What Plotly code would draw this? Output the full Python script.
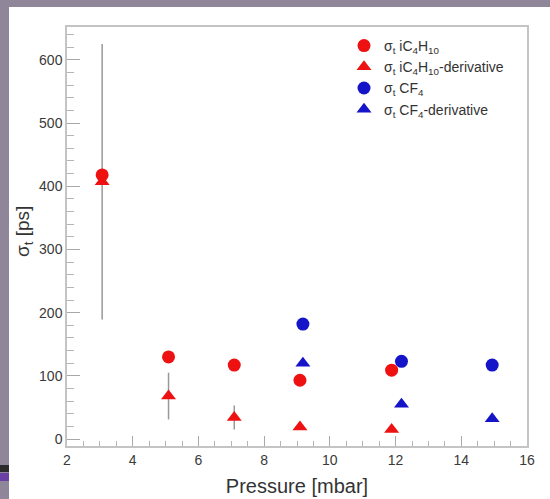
import plotly.graph_objects as go

# Data
p_ic4h10 = [3.07, 5.09, 7.09, 9.09, 11.88]
sig_ic4h10 = [418, 130, 117, 93, 109]
sig_ic4h10_der = [407, 68, 34, 19, 15]
err_ic4h10_der = [218, 37, 19, 0, 0]

p_cf4 = [9.18, 12.18, 14.94]
sig_cf4 = [182, 123, 117]
sig_cf4_der = [120, 55, 32]

RED = "#ee1111"
BLUE = "#1414c8"

fig = go.Figure()
fig.add_trace(go.Scatter(
    x=p_ic4h10, y=sig_ic4h10_der, mode="markers",
    marker=dict(symbol="triangle-up", size=13, color=RED),
    error_y=dict(type="data", array=err_ic4h10_der, color="#999999", thickness=1.5, width=0),
    name="σ<sub>t</sub> iC<sub>4</sub>H<sub>10</sub>-derivative", showlegend=False))
fig.add_trace(go.Scatter(
    x=p_ic4h10, y=sig_ic4h10, mode="markers",
    marker=dict(symbol="circle", size=13, color=RED),
    name="σ<sub>t</sub> iC<sub>4</sub>H<sub>10</sub>"))
# legend entry for the derivative (without error bar glyph)
fig.add_trace(go.Scatter(
    x=[None], y=[None], mode="markers",
    marker=dict(symbol="triangle-up", size=13, color=RED),
    name="σ<sub>t</sub> iC<sub>4</sub>H<sub>10</sub>-derivative"))
fig.add_trace(go.Scatter(
    x=p_cf4, y=sig_cf4, mode="markers",
    marker=dict(symbol="circle", size=13, color=BLUE),
    name="σ<sub>t</sub> CF<sub>4</sub>"))
fig.add_trace(go.Scatter(
    x=p_cf4, y=sig_cf4_der, mode="markers",
    marker=dict(symbol="triangle-up", size=13, color=BLUE),
    name="σ<sub>t</sub> CF<sub>4</sub>-derivative"))

W, H = 550, 499
L, R, T, B = 67, 23, 27, 53
pw, ph = W - L - R, H - T - B

def px_x(x):
    return (x - L) / pw

def px_y(y):
    return (H - B - y) / ph

shapes = [
    dict(type="rect", xref="paper", yref="paper", layer="below",
         x0=px_x(9), x1=px_x(W + 5), y0=px_y(H + 5), y1=px_y(7),
         fillcolor="white", line=dict(width=0)),
    dict(type="rect", xref="paper", yref="paper", layer="below",
         x0=px_x(-5), x1=px_x(9), y0=px_y(472), y1=px_y(465),
         fillcolor="#2b2b2b", line=dict(width=0)),
    dict(type="rect", xref="paper", yref="paper", layer="below",
         x0=px_x(-5), x1=px_x(9), y0=px_y(481), y1=px_y(473),
         fillcolor="#6a3fa6", line=dict(width=0)),
]

axis_common = dict(
    showline=True, mirror=True, linecolor="#c4c4c4", linewidth=1.5,
    ticks="inside", tickcolor="#a8a8a8", showgrid=False, zeroline=False,
    automargin=False,
    tickfont=dict(family="Liberation Sans, Arial", size=14, color="#3a3a3a"),
)

fig.update_layout(
    width=W, height=H,
    margin=dict(l=L, r=R, t=T, b=B),
    paper_bgcolor="#8f8799", plot_bgcolor="white",
    shapes=shapes,
    font=dict(family="Liberation Sans, Arial", color="#333333"),
    xaxis=dict(range=[2, 16], dtick=2, tick0=2, ticklen=10, tickwidth=1,
               minor=dict(dtick=0.5, ticklen=5, tickcolor="#b5b5b5", ticks="inside"),
               title=dict(text="Pressure [mbar]", font=dict(size=20, color="#333333"), standoff=12),
               **axis_common),
    yaxis=dict(range=[-11, 652], dtick=100, tick0=0, ticklen=13, tickwidth=1,
               minor=dict(dtick=20, ticklen=7, tickcolor="#b5b5b5", ticks="inside"),
               **axis_common),
    annotations=[dict(text="σ<sub>t</sub> [ps]", textangle=-90, xref="paper", yref="paper",
                      x=px_x(24), y=px_y(232), xanchor="center", yanchor="middle",
                      showarrow=False, font=dict(size=19, color="#333333"))],
    legend=dict(x=px_x(344), y=px_y(30), xanchor="left", yanchor="top",
                bgcolor="rgba(0,0,0,0)", borderwidth=0, tracegroupgap=0,
                font=dict(size=14, color="#333333"), itemwidth=30),
    showlegend=True,
)

fig.write_html("out.html", config={"displayModeBar": False},
               post_script="document.body.style.margin='0';document.body.style.padding='0';")
